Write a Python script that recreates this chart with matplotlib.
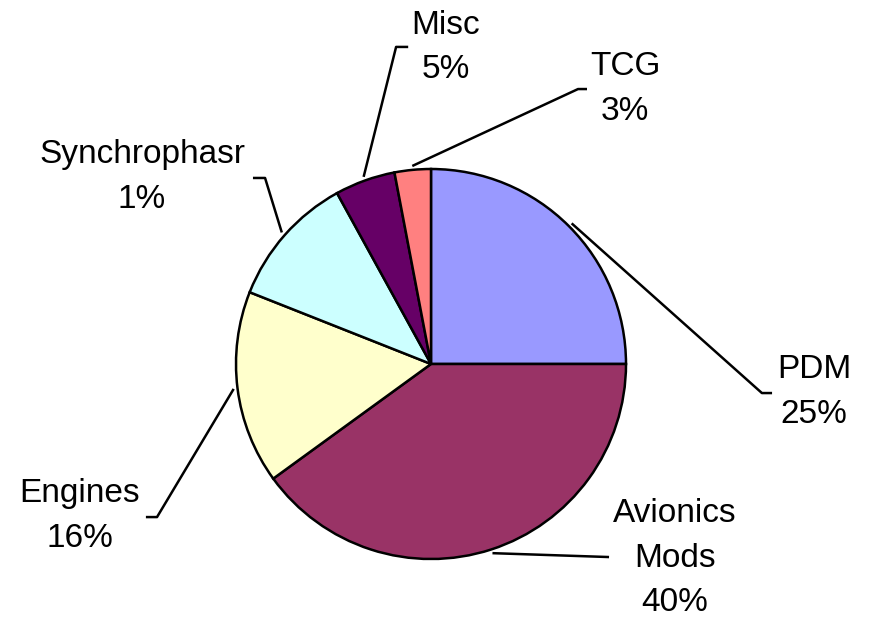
import numpy as np
import matplotlib
matplotlib.use("Agg")
import matplotlib.pyplot as plt

categories = ["PDM", "Avionics\nMods", "Engines", "Synchrophasr", "Misc", "TCG"]
values = [25, 40, 16, 11, 5, 3]
pct_labels = ["25%", "40%", "16%", "1%", "5%", "3%"]
colors = ["#9999FF", "#993366", "#FFFFCC", "#CCFFFF", "#660066", "#FF8080"]

# label layout (axes data units, pie radius = 1): elbow x, elbow y, tick dx, text x, text y
elbows = [(1.697, -0.149), (0.913, -0.99), (-1.405, -0.785), (-0.851, 0.954), (-0.179, 1.626), (0.754, 1.41)]
ticks = [0.052, 0.0, -0.057, -0.062, 0.062, 0.046]
text_pos = [(1.964, -0.144), (1.251, -0.995), (-1.80, -0.779), (-1.482, 0.959), (0.077, 1.623), (0.995, 1.408)]

plt.rcParams['font.family'] = ['Liberation Sans', 'DejaVu Sans']

fig = plt.figure(figsize=(8.69, 6.2), dpi=100)
W, H = 869, 620
cx, cy, r = 431, 364, 195
ax = fig.add_axes([(cx - r) / W, (H - cy - r) / H, 2 * r / W, 2 * r / H])

wedges, _ = ax.pie(values, colors=colors, startangle=90, counterclock=False,
                   radius=1.0, wedgeprops=dict(edgecolor="black", linewidth=1.8))
ax.set_xlim(-1, 1)
ax.set_ylim(-1, 1)
ax.set_aspect('equal')
ax.axis('off')

for w, lab, pct, (ex, ey), tdx, (tx, ty) in zip(wedges, categories, pct_labels, elbows, ticks, text_pos):
    mid = np.deg2rad((w.theta1 + w.theta2) / 2)
    sx, sy = 1.02 * np.cos(mid), 1.02 * np.sin(mid)
    ax.plot([sx, ex, ex + tdx], [sy, ey, ey], color="black", lw=1.8, clip_on=False,
            solid_capstyle='butt')
    ax.text(tx, ty, lab + "\n" + pct, ha='center', va='center', fontsize=24,
            linespacing=1.58, clip_on=False)

fig.savefig("out.png", dpi=100)
